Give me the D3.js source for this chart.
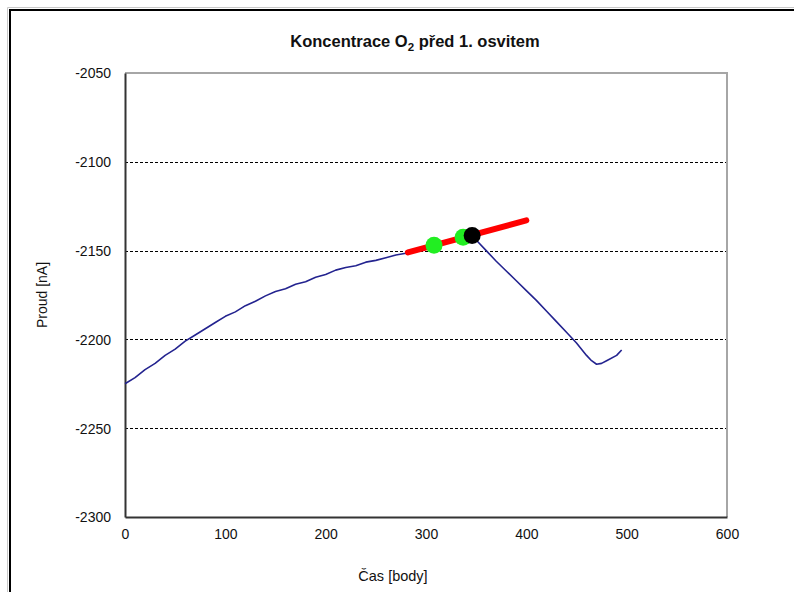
<!DOCTYPE html>
<html>
<head>
<meta charset="utf-8">
<script src="https://cdn.jsdelivr.net/npm/d3@7/dist/d3.min.js"></script>
<style>
  html, body { margin: 0; padding: 0; background: #fff; }
  svg { display: block; font-family: "Liberation Sans", Arial, sans-serif; }
</style>
</head>
<body>
<svg id="chart" width="794" height="592"></svg>
<script>
// Measured current over time (before the first illumination)
const time = [0, 10, 20, 30, 40, 50, 60, 70, 80, 90, 100, 110, 120, 130, 140, 150, 160, 170, 180, 190,
  200, 210, 220, 230, 240, 250, 260, 270, 280, 290, 300, 310, 320, 330, 340, 345, 350, 360, 370, 380,
  390, 400, 410, 420, 430, 440, 450, 460, 465, 470, 475, 480, 490, 495];
const current = [-2225, -2221.5, -2217, -2213.5, -2209, -2205.5, -2201, -2197.5, -2194, -2190.5, -2187,
  -2184.5, -2181, -2178.5, -2175.5, -2173, -2171.5, -2169, -2167.5, -2165, -2163.5, -2161, -2159.5, -2158.5,
  -2156.5, -2155.5, -2154, -2152.5, -2151.5, -2149.5, -2148.5, -2147, -2145.5, -2144.5, -2142.5, -2142,
  -2144, -2150, -2156, -2161.5, -2167, -2172.5, -2178, -2184, -2190, -2196, -2202, -2209, -2212, -2214,
  -2213.5, -2212, -2209, -2206];

// Fitted tangent segment
const fitTime = [282, 400];
const fitCurrent = [-2151, -2133];

// Highlighted points
const greenTime = [308, 337];
const greenCurrent = [-2147, -2142.5];
const blackTime = [346];
const blackCurrent = [-2141.5];

const xTicks = [0, 100, 200, 300, 400, 500, 600];
const yTicks = [-2050, -2100, -2150, -2200, -2250, -2300];
const gridValues = [-2100, -2150, -2200, -2250];

const svg = d3.select("#chart");
const plot = { left: 125, right: 727, top: 73, bottom: 517 };

const x = d3.scaleLinear().domain([0, 600]).range([plot.left, plot.right]);
const y = d3.scaleLinear().domain([-2300, -2050]).range([plot.bottom, plot.top]);

// Chart frame
svg.append("path").attr("d", "M7.5,592 V7.5 H794").attr("fill", "none").attr("stroke", "#c8c8c8").attr("stroke-width", 1);
svg.append("path").attr("d", "M10,592 V10 H794").attr("fill", "none").attr("stroke", "#000").attr("stroke-width", 2);

// Title with subscript
const title = svg.append("text").attr("x", 415).attr("y", 47).attr("text-anchor", "middle")
  .attr("font-size", 16.5).attr("font-weight", "bold").attr("fill", "#111");
title.append("tspan").text("Koncentrace O");
title.append("tspan").attr("font-size", 11.5).attr("dy", 4).text("2");
title.append("tspan").attr("dy", -4).text(" před 1. osvitem");

// Gridlines
svg.append("g").selectAll("line").data(gridValues).join("line")
  .attr("x1", plot.left).attr("x2", plot.right)
  .attr("y1", d => Math.round(y(d)) + 0.5).attr("y2", d => Math.round(y(d)) + 0.5)
  .attr("stroke", "#000").attr("stroke-width", 1).attr("stroke-dasharray", "3,2");

// Plot area border: light top/right, dark axes left/bottom
svg.append("path").attr("d", `M${plot.left},${plot.top} H${plot.right} V${plot.bottom}`)
  .attr("fill", "none").attr("stroke", "#a6a6a6").attr("stroke-width", 2);

// Axes
const fmt = d => String(d);
const yAxis = d3.axisLeft(y).tickValues(yTicks).tickSize(0).tickPadding(14).tickFormat(fmt);
const xAxis = d3.axisBottom(x).tickValues(xTicks).tickSize(0).tickPadding(12).tickFormat(fmt);

const gy = svg.append("g").attr("transform", `translate(${plot.left},0)`).call(yAxis);
const gx = svg.append("g").attr("transform", `translate(0,${plot.bottom})`).call(xAxis);
[gx, gy].forEach(g => {
  g.select(".domain").attr("stroke", "#333").attr("stroke-width", 2);
  g.selectAll("text").attr("font-size", 14).attr("fill", "#111").attr("font-family", "Liberation Sans, Arial, sans-serif");
});
gy.selectAll("text").attr("dy", "0.35em");

// Axis titles
svg.append("text").attr("x", 393).attr("y", 581).attr("text-anchor", "middle")
  .attr("font-size", 14.5).attr("fill", "#111").text("Čas [body]");
svg.append("text").attr("transform", `translate(47,${(plot.top + plot.bottom) / 2}) rotate(-90)`)
  .attr("text-anchor", "middle").attr("font-size", 14).attr("fill", "#111").text("Proud [nA]");

// Measured curve
const line = d3.line().x((d, i) => x(time[i])).y(d => y(d));
svg.append("path").datum(current).attr("d", line)
  .attr("fill", "none").attr("stroke", "#23238f").attr("stroke-width", 1.6).attr("stroke-linejoin", "round");

// Tangent segment
svg.append("line")
  .attr("x1", x(fitTime[0])).attr("y1", y(fitCurrent[0]))
  .attr("x2", x(fitTime[1])).attr("y2", y(fitCurrent[1]))
  .attr("stroke", "#ff0000").attr("stroke-width", 6).attr("stroke-linecap", "round");

// Points
svg.append("g").selectAll("circle").data(greenTime).join("circle")
  .attr("cx", d => x(d)).attr("cy", (d, i) => y(greenCurrent[i])).attr("r", 8.5).attr("fill", "#22ee22");
svg.append("g").selectAll("circle").data(blackTime).join("circle")
  .attr("cx", d => x(d)).attr("cy", (d, i) => y(blackCurrent[i])).attr("r", 8.5).attr("fill", "#000");
</script>
</body>
</html>
